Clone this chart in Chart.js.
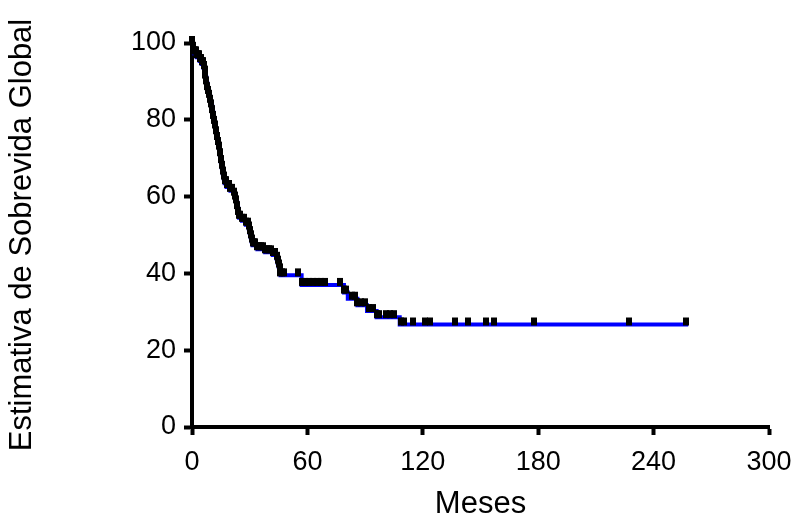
<!DOCTYPE html>
<html>
<head>
<meta charset="utf-8">
<script src="https://cdn.jsdelivr.net/npm/chart.js@4.4.1/dist/chart.umd.min.js"></script>
<style>
  html, body { margin: 0; padding: 0; background: #fff; }
  #wrap { width: 795px; height: 520px; }
</style>
</head>
<body>
<div id="wrap"><canvas id="kmChart" width="795" height="520"></canvas></div>
<script>
// Kaplan-Meier estimate: month where each step starts and the survival (%) from there on
const kmMonths = [0, 0.5, 1, 2.5, 4, 5, 6, 6.5, 7, 7.5, 8, 8.5, 9, 9.5, 10, 10.5, 11, 11.5, 12, 12.5,
  13, 13.5, 14, 14.5, 15, 15.5, 16, 16.5, 17, 18, 20, 22, 22.5, 23, 23.5, 24, 24.5, 26, 28, 29.5,
  30, 30.5, 31, 31.5, 34, 38, 42, 44, 44.5, 45, 45.5, 46, 57, 79, 81, 86, 91, 96, 108, 258];
const kmSurvival = [100, 98.5, 97.3, 96.3, 95.3, 94.5, 93.5, 92.3, 91, 89.5, 88, 87, 86, 84.7, 83.5, 82, 80.5, 79.2, 78, 76.5,
  75, 73.7, 72.5, 70.8, 69, 67.5, 66, 64.7, 63.5, 62.5, 61.5, 60.5, 59.5, 58.5, 57, 55.5, 54.5, 53.7, 52.7, 51.7,
  50.5, 49.4, 48.3, 47.3, 46.3, 45.5, 44.8, 43.8, 42.8, 41.8, 40.8, 39.5, 37, 35, 33.4, 31.7, 30.2, 28.6, 26.7, 26.7];

// censored patients (months of follow-up)
const censoredMonths = [0, 0.5, 1, 1.5, 2, 2.5, 3, 3.5, 4, 4.5, 5, 5.5, 6, 6.5, 7, 7.5, 8, 8.5, 9, 9.5,
  10, 10.5, 11, 11.5, 12, 12.5, 13, 13.5, 14, 14.5, 15, 15.5, 16, 16.5, 17, 17.5, 18, 19, 20, 21,
  22, 22.5, 23, 23.5, 24, 24.5, 25, 26, 27, 28, 29, 29.5, 30, 30.5, 31, 31.5, 32, 33, 34, 35,
  36, 37, 38, 39, 40, 41, 42, 43, 44, 44.5, 45, 45.5, 46, 47, 48, 55, 57, 58.5, 61, 63,
  65, 67, 69, 77, 79, 80, 83, 85, 86, 88, 90, 92, 94, 96, 97, 101, 103, 105, 108.5, 110,
  115, 121, 124, 137, 143.5, 153, 157, 178, 227, 257];

const xTicks = [0, 60, 120, 180, 240, 300];
const yTicks = [0, 20, 40, 60, 80, 100];

// survival level in force at a given month
function survivalAt(m) {
  let s = kmSurvival[0];
  for (let i = 0; i < kmMonths.length; i++) {
    if (kmMonths[i] <= m) s = kmSurvival[i];
  }
  return s;
}

// censor tick: small black bar standing on the curve
const tick = document.createElement('canvas');
tick.width = 6;
tick.height = 16;
const tctx = tick.getContext('2d');
tctx.fillStyle = '#000';
tctx.fillRect(0, 1, 6, 8);

const font = 'Arial, "Liberation Sans", sans-serif';

new Chart(document.getElementById('kmChart'), {
  data: {
    datasets: [{
      type: 'scatter',
      order: 0,
      data: censoredMonths.map(m => ({x: m, y: survivalAt(m)})),
      pointStyle: tick,
      pointRadius: 4,
      clip: false
    }, {
      type: 'line',
      order: 1,
      data: kmMonths.map((m, i) => ({x: m, y: kmSurvival[i]})),
      stepped: 'before',
      borderColor: '#0000ff',
      borderWidth: 4,
      borderCapStyle: 'butt',
      borderJoinStyle: 'miter',
      pointRadius: 0,
      fill: false,
      clip: false
    }]
  },
  options: {
    responsive: false,
    animation: false,
    layout: { padding: { left: 0, right: 26, top: 43, bottom: 0 } },
    plugins: { legend: { display: false }, tooltip: { enabled: false } },
    scales: {
      x: {
        type: 'linear',
        min: 0,
        max: 300,
        afterBuildTicks: s => { s.ticks = xTicks.map(v => ({value: v})); },
        afterFit: s => { s.height = 93; s.paddingLeft = 0; s.paddingRight = 0; },
        border: { color: '#000', width: 4 },
        grid: { drawOnChartArea: false, drawTicks: true, tickLength: 8, tickWidth: 4, tickColor: '#000' },
        ticks: { color: '#000', padding: 11, maxRotation: 0, font: { family: font, size: 27 } },
        title: {
          display: true,
          text: 'Meses',
          color: '#000',
          padding: { top: 0, bottom: -3 },
          font: { family: font, size: 31 }
        }
      },
      y: {
        type: 'linear',
        min: 0,
        max: 100,
        afterBuildTicks: s => { s.ticks = yTicks.map(v => ({value: v})); },
        afterFit: s => { s.width = 192; s.paddingTop = 0; s.paddingBottom = 0; },
        border: { color: '#000', width: 4 },
        grid: { drawOnChartArea: false, drawTicks: true, tickLength: 8, tickWidth: 4, tickColor: '#000' },
        ticks: { color: '#000', padding: 8, font: { family: font, size: 27 } },
        title: {
          display: true,
          text: 'Estimativa de Sobrevida Global',
          color: '#000',
          padding: { top: 4, bottom: 0 },
          font: { family: font, size: 31 }
        }
      }
    }
  }
});
</script>
</body>
</html>
